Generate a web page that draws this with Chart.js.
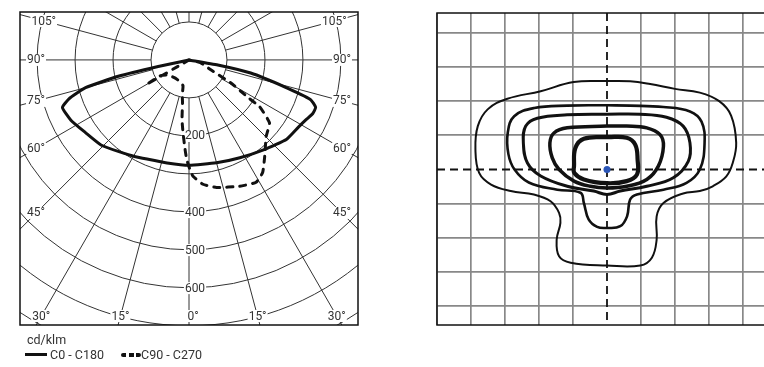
<!DOCTYPE html>
<html>
<head>
<meta charset="utf-8">
<script src="https://cdn.jsdelivr.net/npm/chart.js@4.4.0/dist/chart.umd.min.js"></script>
<style>
html, body { margin: 0; padding: 0; overflow: hidden; background: #fff; width: 764px; height: 367px; }
#polar { position: absolute; left: 0; top: 0; }
#isolux { position: absolute; left: 400px; top: 0; }
.txt { position: absolute; font: 12.5px Roboto, sans-serif; color: #333; white-space: nowrap; line-height: 14px; }
.sw { display: inline-block; vertical-align: middle; position: relative; top: -1px; }
.sw.solid { width: 22px; height: 3px; background: #111; margin-right: 3px; }
.sw.dash { width: 20px; height: 4px; border-radius: 2px; margin-left: 17px;
           background: repeating-linear-gradient(90deg, #111 0 5px, transparent 5px 7.5px); }
</style>
</head>
<body>
<canvas id="polar" width="380" height="367"></canvas>
<canvas id="isolux" width="400" height="367"></canvas>
<div class="txt" style="left:27px;top:333px;">cd/klm</div>
<div class="txt" style="left:25px;top:348px;"><span class="sw solid"></span>C0 - C180<span class="sw dash"></span>C90 - C270</div>
<script>
// --- polar diagram (cd/klm) ---
const gammaC0 = [-90, -78, -77, -75, -72, -69.4, -63, -55, -46, -37, -29, -21, -12, 0, 15, 27.5, 40, 51, 58.5, 63, 66.5, 69.5, 72, 74.3, 78, 80, 90];
const cdC0    = [0, 83, 191, 282, 333, 356, 349, 333, 322, 303, 291, 281, 277, 277, 280, 290, 308, 331, 338, 346, 355, 356, 336, 261, 166, 77, 0];
const gammaC90 = [-90, -60, -61, -54.5, -37, -22, -13, -11, -8.6, -6.7, -4.7, -2.5, -1.3, 0.5, 2, 6.4, 12.2, 21.9, 28.8, 33.2, 38.1, 45.3, 52, 56.5, 57.5, 61.3, 65.6, 76, 90];
const cdC90    = [0, 129, 85, 68, 60, 62, 70, 93, 114, 158, 192, 236, 262, 288, 306, 329, 343, 358, 367, 354, 323, 286, 269, 223, 186, 125, 63, 32, 0];
const rings = [100, 200, 300, 400, 500, 600, 700, 800, 900, 1000];
const ringLabels = [200, 400, 500, 600];
const angleLabels = [105, 90, 75, 60, 45, 30, 15, 0];
const spokeStep = 15;

// --- isolux diagram (grid units) ---
const isoAx = [0, -0.98, -1.95, -2.93, -3.51, -3.8, -3.87, -3.76, -3.41, -2.83, -2.15, -1.66, -1.41, -1.37, -1.48, -1.41, -1.07, 0, 0.98, 1.32, 1.46, 1.46, 1.66, 2.24, 2.73, 3.11, 3.51, 3.7, 3.8, 3.65, 3.3, 2.73, 2.0, 1.27, 0.68];
const isoAy = [2.59, 2.56, 2.29, 2.07, 1.76, 1.27, 0.59, -0.1, -0.44, -0.63, -0.73, -0.93, -1.27, -1.56, -2.05, -2.54, -2.73, -2.81, -2.81, -2.58, -2.05, -1.37, -0.98, -0.7, -0.63, -0.49, -0.2, 0.2, 0.78, 1.58, 2.0, 2.25, 2.36, 2.5, 2.58];
const isoBx = [0, -1.17, -2.14, -2.73, -2.92, -2.9, -2.72, -2.3, -1.46, -0.78, -0.68, -0.54, -0.29, 0, 0.39, 0.59, 0.68, 0.88, 1.66, 2.34, 2.73, 2.87, 2.78, 2.44, 1.66, 0.68];
const isoBy = [1.88, 1.87, 1.8, 1.56, 1.07, 0.45, 0.0, -0.38, -0.59, -0.68, -0.98, -1.46, -1.68, -1.71, -1.66, -1.37, -0.88, -0.73, -0.59, -0.39, 0, 0.78, 1.4, 1.7, 1.83, 1.87];
const isoCx = [0, -1.17, -2.05, -2.39, -2.46, -2.34, -1.95, -1.17, -0.39, 0, 0.39, 1.17, 1.95, 2.39, 2.44, 2.24, 1.75, 0.97];
const isoCy = [1.62, 1.6, 1.5, 1.27, 0.78, 0.19, -0.19, -0.49, -0.63, -0.73, -0.63, -0.49, -0.24, 0.24, 0.78, 1.27, 1.53, 1.62];
const isoDx = [0, -1.17, -1.56, -1.68, -1.61, -1.41, -0.97, -0.49, 0, 0.58, 1.17, 1.51, 1.66, 1.56, 1.17, 0.58];
const isoDy = [1.27, 1.22, 1.07, 0.78, 0.34, 0, -0.34, -0.49, -0.54, -0.49, -0.29, 0.1, 0.68, 1.02, 1.22, 1.27];
const isoEx = [0, -0.68, -0.93, -0.97, -0.96, -0.68, 0, 0.58, 0.88, 0.9, 0.83, 0.58];
const isoEy = [0.95, 0.9, 0.63, 0.1, -0.1, -0.29, -0.4, -0.34, -0.15, 0.29, 0.73, 0.93];
const gridX = [-5, -4, -3, -2, -1, 0, 1, 2, 3, 4, 5];
const gridY = [-4, -3, -2, -1, 0, 1, 2, 3, 4];

Chart.defaults.font.family = 'Roboto, sans-serif';

const rad = d => d * Math.PI / 180;
// polar (gamma from nadir, cd) -> plot coords, intensity drawn downwards
const toXY = (g, v) => g.map((a, i) => ({ x: v[i] * Math.sin(rad(a)), y: -v[i] * Math.cos(rad(a)) }));
const loop = (xs, ys) => xs.map((x, i) => ({ x, y: ys[i] })).concat([{ x: xs[0], y: ys[0] }]);

const polarGrid = {
  id: 'polarGrid',
  beforeDatasetsDraw(chart) {
    const { ctx, chartArea: a, scales: { x, y } } = chart;
    const cx = x.getPixelForValue(0), cy = y.getPixelForValue(0);
    const pt = (g, r) => [x.getPixelForValue(r * Math.sin(rad(g))), y.getPixelForValue(-r * Math.cos(rad(g)))];
    ctx.save();
    ctx.beginPath(); ctx.rect(a.left, a.top, a.width, a.height); ctx.clip();
    ctx.strokeStyle = '#333'; ctx.lineWidth = 1;
    rings.forEach(r => {
      ctx.beginPath();
      ctx.arc(cx, cy, x.getPixelForValue(r) - cx, 0, Math.PI * 2);
      ctx.stroke();
    });
    for (let g = -180; g < 180; g += spokeStep) {
      const p1 = pt(g, rings[0]), p2 = pt(g, 2000);
      ctx.beginPath(); ctx.moveTo(p1[0], p1[1]); ctx.lineTo(p2[0], p2[1]); ctx.stroke();
    }
    ctx.font = '12px Roboto, sans-serif';
    ctx.textAlign = 'center'; ctx.textBaseline = 'middle';
    const label = (t, px, py) => {
      const w = ctx.measureText(t).width;
      ctx.fillStyle = '#fff';
      ctx.fillRect(px - w / 2 - 1, py - 6, w + 2, 12);
      ctx.fillStyle = '#333';
      ctx.fillText(t, px, py + 0.5);
    };
    ringLabels.forEach(r => label(String(r), cx + 6, y.getPixelForValue(-r)));
    // angle labels sit on their spoke just inside the frame
    const inL = a.left + 16, inR = a.right - 16, inT = a.top + 9, inB = a.bottom - 9;
    angleLabels.forEach(d => {
      (d === 0 ? [0] : [-d, d]).forEach(g => {
        const dx = Math.sin(rad(g)), dy = Math.cos(rad(g));
        let t = Infinity;
        if (dx < 0) t = Math.min(t, (cx - inL) / -dx);
        if (dx > 0) t = Math.min(t, (inR - cx) / dx);
        if (dy > 0) t = Math.min(t, (inB - cy) / dy);
        if (dy < 0) t = Math.min(t, (cy - inT) / -dy);
        label(d + '°', cx + dx * t + (g === 0 ? 4 : 0), cy + dy * t);
      });
    });
    ctx.restore();
  },
  afterDraw(chart) {
    const { ctx, chartArea: a } = chart;
    ctx.save();
    ctx.strokeStyle = '#111'; ctx.lineWidth = 1.5;
    ctx.strokeRect(a.left, a.top, a.width, a.height);
    ctx.restore();
  }
};

new Chart(document.getElementById('polar'), {
  type: 'scatter',
  data: {
    datasets: [
      { label: 'C0 - C180', data: toXY(gammaC0, cdC0), showLine: true, borderColor: '#111', borderWidth: 3, pointRadius: 0, tension: 0.15, borderJoinStyle: 'round' },
      { label: 'C90 - C270', data: toXY(gammaC90, cdC90), showLine: true, borderColor: '#111', borderWidth: 3, pointRadius: 0, tension: 0.15, borderDash: [6, 7], borderCapStyle: 'round' }
    ]
  },
  options: {
    responsive: false, animation: false,
    layout: { padding: { left: 20, top: 12, right: 22, bottom: 42 } },
    scales: {
      x: { type: 'linear', min: -445, max: 445, display: false },
      y: { type: 'linear', min: -697, max: 126, display: false }
    },
    plugins: { legend: { display: false }, tooltip: { enabled: false } }
  },
  plugins: [polarGrid]
});

const isoFrame = {
  id: 'isoFrame',
  beforeDatasetsDraw(chart) {
    const { ctx, chartArea: a, scales: { x, y } } = chart;
    const x0 = x.getPixelForValue(0), y0 = y.getPixelForValue(0);
    ctx.save();
    ctx.strokeStyle = '#111'; ctx.lineWidth = 1.8; ctx.setLineDash([8, 5]);
    ctx.beginPath(); ctx.moveTo(a.left, y0); ctx.lineTo(a.right, y0); ctx.stroke();
    ctx.beginPath(); ctx.moveTo(x0, a.top); ctx.lineTo(x0, a.bottom); ctx.stroke();
    ctx.restore();
  },
  afterDraw(chart) {
    const { ctx, chartArea: a } = chart;
    ctx.save();
    ctx.strokeStyle = '#111'; ctx.lineWidth = 1.5;
    ctx.strokeRect(a.left, a.top, a.width, a.height);
    ctx.restore();
  }
};

const contour = (data, w) => ({ data, showLine: true, borderColor: '#111', borderWidth: w, pointRadius: 0, tension: 0.4, fill: false });
const gridOpts = {
  color: c => (c.tick && c.tick.value === 0) ? 'rgba(0,0,0,0)' : '#888',
  lineWidth: 1.7, drawTicks: false
};

new Chart(document.getElementById('isolux'), {
  type: 'scatter',
  data: {
    datasets: [
      contour(loop(isoAx, isoAy), 2),
      contour(loop(isoBx, isoBy), 2.6),
      contour(loop(isoCx, isoCy), 3),
      contour(loop(isoDx, isoDy), 3.5),
      contour(loop(isoEx, isoEy), 4.2),
      { data: [{ x: 0, y: 0 }], pointRadius: 3.5, pointBackgroundColor: '#2b56b8', pointBorderWidth: 0 }
    ]
  },
  options: {
    responsive: false, animation: false,
    layout: { padding: { left: 37, top: 13, right: 23, bottom: 42 } },
    scales: {
      x: { type: 'linear', min: -5, max: 5, afterBuildTicks: s => { s.ticks = gridX.map(v => ({ value: v })); },
           ticks: { display: false }, border: { display: false }, grid: gridOpts },
      y: { type: 'linear', min: -4.55, max: 4.58, afterBuildTicks: s => { s.ticks = gridY.map(v => ({ value: v })); },
           ticks: { display: false }, border: { display: false }, grid: gridOpts }
    },
    plugins: { legend: { display: false }, tooltip: { enabled: false } }
  },
  plugins: [isoFrame]
});
</script>
</body>
</html>
